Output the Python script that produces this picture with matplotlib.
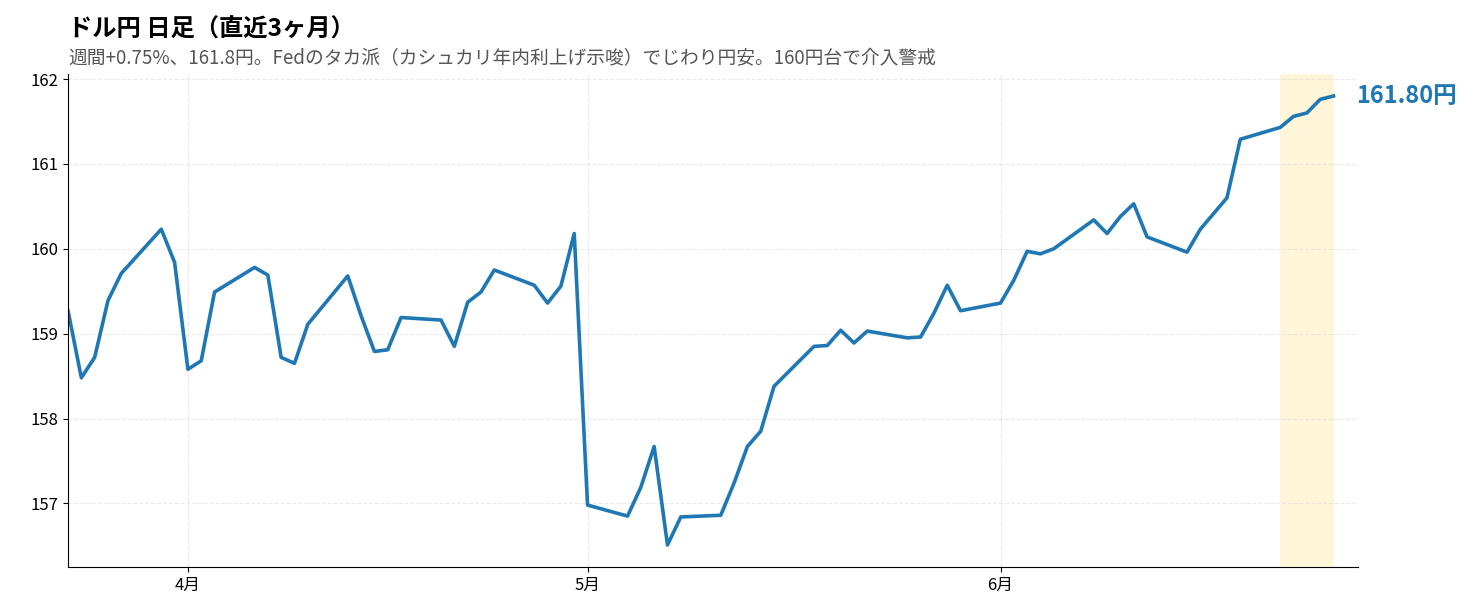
import matplotlib
matplotlib.use("Agg")
import matplotlib.pyplot as plt
import matplotlib.dates as mdates
import pandas as pd

plt.rcParams['font.family'] = ['Noto Sans CJK JP', 'DejaVu Sans']

dates = ["2026-03-23","2026-03-24","2026-03-25","2026-03-26","2026-03-27","2026-03-30","2026-03-31",
 "2026-04-01","2026-04-02","2026-04-03","2026-04-06","2026-04-07","2026-04-08","2026-04-09","2026-04-10",
 "2026-04-13","2026-04-14","2026-04-15","2026-04-16","2026-04-17","2026-04-20","2026-04-21","2026-04-22",
 "2026-04-23","2026-04-24","2026-04-27","2026-04-28","2026-04-29","2026-04-30","2026-05-01","2026-05-04",
 "2026-05-05","2026-05-06","2026-05-07","2026-05-08","2026-05-11","2026-05-12","2026-05-13","2026-05-14",
 "2026-05-15","2026-05-18","2026-05-19","2026-05-20","2026-05-21","2026-05-22","2026-05-25","2026-05-26",
 "2026-05-27","2026-05-28","2026-05-29","2026-06-01","2026-06-02","2026-06-03","2026-06-04","2026-06-05",
 "2026-06-08","2026-06-09","2026-06-10","2026-06-11","2026-06-12","2026-06-15","2026-06-16","2026-06-18",
 "2026-06-19","2026-06-22","2026-06-23","2026-06-24","2026-06-25","2026-06-26"]
values = [159.27,158.48,158.72,159.39,159.71,160.23,159.84,
 158.58,158.68,159.49,159.78,159.69,158.72,158.65,159.11,
 159.68,159.21,158.79,158.81,159.19,159.16,158.85,159.37,
 159.49,159.75,159.57,159.36,159.56,160.18,156.98,156.85,
 157.19,157.67,156.51,156.84,156.86,157.24,157.67,157.85,
 158.38,158.85,158.86,159.04,158.89,159.03,158.95,158.96,
 159.24,159.57,159.27,159.36,159.63,159.97,159.94,160.00,
 160.34,160.18,160.38,160.53,160.14,159.96,160.23,160.60,
 161.29,161.43,161.56,161.60,161.76,161.80]
highlight = ("2026-06-22", "2026-06-26")
x_range = ("2026-03-23", "2026-06-27 20:00")
title = "ドル円 日足（直近3ヶ月）"
subtitle = "週間+0.75%、161.8円。Fedのタカ派（カシュカリ年内利上げ示唆）でじわり円安。160円台で介入警戒"
last_label = "161.80円"

d = pd.to_datetime(dates)
color = "#1f77b4"
fig = plt.figure(figsize=(14.82, 6.16), dpi=100)
ax = fig.add_axes([0.0459, 0.0795, 0.8704, 0.8005])
ax.axvspan(pd.Timestamp(highlight[0]), pd.Timestamp(highlight[1]), color="#ffd54f", alpha=0.22, lw=0)
ax.plot(d, values, color=color, lw=2.6)
ax.set_xlim(pd.Timestamp(x_range[0]), pd.Timestamp(x_range[1]))
ax.set_ylim(156.25, 162.06)
ax.set_yticks([157,158,159,160,161,162])
ax.xaxis.set_major_locator(mdates.MonthLocator())
ax.xaxis.set_major_formatter(plt.FuncFormatter(lambda v, p: f"{mdates.num2date(v).month}月"))
ax.grid(True, ls="--", color="#dddddd", alpha=0.6, lw=0.8)
for s in ["top", "right"]:
    ax.spines[s].set_visible(False)
ax.tick_params(labelsize=12)
ax.annotate(last_label, (d[-1], values[-1]), xytext=(16, 0), textcoords="offset points",
            color=color, fontsize=17, fontweight="bold", va="center")
fig.text(0.0459, 0.94, title, fontsize=17.5, fontweight="bold")
fig.text(0.0459, 0.895, subtitle, fontsize=13.5, color="#555555")
fig.savefig("out.png")
